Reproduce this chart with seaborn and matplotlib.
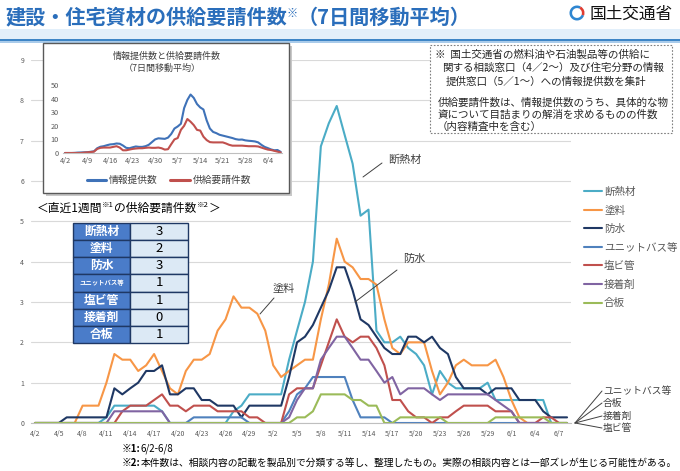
import numpy as np
import pandas as pd
import matplotlib
matplotlib.use("Agg")
import matplotlib.pyplot as plt
import seaborn as sns
from matplotlib.patches import Rectangle, Wedge

sns.set_theme(style="white")
plt.rcParams['font.family'] = ['Noto Sans CJK JP', 'DejaVu Sans']

W, H = 680, 471

# ---------------- data ----------------
series_names = ["断熱材", "塗料", "防水", "ユニットバス等", "塩ビ管", "接着剤", "合板"]
series_colors = ["#4BACC6", "#F79646", "#1F3864", "#4F81BD", "#C0504D", "#8064A2", "#9BBB59"]

days = list(range(68))  # 4/2 .. 6/8

dannetsu = [0, 0, 0, 0, 0, 0, 0, 0, 0, 0.14, 0.43, 0.43, 0.43, 0.43, 0.43, 0.43, 0.29,
            0, 0, 0, 0, 0, 0, 0, 0, 0.29, 0.43, 0.71, 0.71, 0.71, 0.71, 0.71,
            1.57, 2.29, 3.0, 4.0, 6.86, 7.43, 7.86, 7.14, 6.43, 5.14, 5.29,
            2.29, 2.0, 2.0, 2.14, 1.86, 1.71, 1.43, 0.71, 1.29, 1.0,
            0.86, 0.86, 0.86, 0.86, 1.0, 0.57, 0.57, 0.57, 0.57, 0.57, 0.57, 0.57, 0, 0, 0]
toryo = [0, 0, 0, 0, 0, 0, 0.43, 0.43, 0.43, 1.0,
         1.71, 1.57, 1.57, 1.29, 1.43, 1.71, 1.29, 0.86, 0.71,
         1.29, 1.57, 1.57, 1.71, 2.29, 2.57, 3.14, 2.86, 2.86, 2.71, 2.29, 1.43, 1.14,
         1.29, 1.43, 1.57, 1.57, 2.57, 3.43, 4.57, 4.0, 3.86, 3.57, 3.57, 3.43, 2.57, 1.86, 1.71,
         2.0, 2.0, 2.0, 1.29, 0.71, 1.0, 1.43, 1.57, 1.43, 1.43, 1.43, 1.57, 1.14, 0.57, 0.14,
         0, 0, 0, 0, 0, 0]
bousui = [0, 0, 0, 0, 0.14, 0.14, 0.14, 0.14, 0.14, 0.14,
          0.86, 0.71, 0.86, 1.0, 1.29, 1.29, 1.43, 0.71, 0.71, 0.86, 0.86, 0.57, 0.57, 0.43, 0.43, 0.43, 0.14,
          0.43, 0.43, 0.43, 0.43, 0.43,
          1.14, 2.0, 2.14, 2.43, 2.86, 3.29, 3.86, 3.86, 3.29, 2.57, 2.43, 2.14, 1.86, 1.71, 1.71,
          2.14, 2.14, 2.0, 2.14, 1.86, 1.71, 1.14, 0.86, 0.86, 0.86, 0.71, 0.86, 0.86, 0.86,
          0.57, 0.57, 0.57, 0.29, 0.14, 0.14, 0.14]
unitbath = [0, 0, 0, 0, 0, 0, 0, 0, 0, 0, 0, 0, 0, 0, 0, 0, 0, 0, 0, 0,
            0.14, 0.14, 0.14, 0.14, 0.14, 0.14, 0.14, 0, 0, 0, 0, 0,
            0.29, 0.71, 0.86, 1.14, 1.14, 1.14, 1.14, 1.14, 0.57, 0.14, 0.14, 0.14, 0.14,
            0, 0, 0, 0, 0, 0, 0, 0, 0, 0, 0, 0, 0, 0, 0, 0, 0, 0, 0, 0, 0, 0, 0]
enbikan = [0, 0, 0, 0, 0, 0, 0, 0, 0, 0, 0, 0.29, 0.43, 0.43, 0.43, 0.57, 0.71, 0.43, 0.43, 0.29,
           0.43, 0.43, 0.43, 0.29, 0.29, 0.29, 0.29, 0.14, 0.14, 0, 0, 0,
           0.71, 0.86, 0.86, 0.86, 1.43, 2.0, 2.57, 2.14, 2.0, 2.14, 2.14, 1.86, 1.43, 0.57, 0.57, 0.29, 0.14, 0.14,
           0, 0.14, 0.14, 0.29, 0.43, 0.43, 0.43, 0.43, 0.29, 0.29, 0.29, 0, 0, 0, 0.14, 0.14, 0, 0]
setchaku = [0, 0, 0, 0, 0, 0, 0, 0, 0, 0, 0.29, 0.29, 0.29, 0.29, 0.29, 0.29, 0.29,
            0, 0, 0, 0, 0, 0, 0, 0, 0, 0, 0, 0, 0, 0, 0,
            0.14, 0.57, 0.86, 0.86, 1.57, 1.86, 2.14, 2.14, 1.86, 1.57, 1.57, 1.29, 1.0, 1.14, 0.71,
            0.86, 0.86, 0.86, 0.71, 0.57, 0.71, 0.71, 0.71, 0.71, 0.71, 0.71, 0.57, 0.43, 0.29,
            0, 0, 0, 0, 0, 0, 0]
gouban = [0, 0, 0, 0, 0, 0, 0, 0, 0, 0, 0, 0, 0, 0, 0, 0, 0, 0, 0, 0, 0, 0, 0, 0, 0, 0, 0, 0, 0, 0, 0, 0, 0,
          0.14, 0.14, 0.29, 0.71, 0.71, 0.71, 0.71, 0.57, 0.57, 0.43, 0.43, 0, 0,
          0.14, 0.14, 0.14, 0.14, 0.14, 0.14, 0, 0, 0, 0, 0, 0,
          0.14, 0.14, 0.14, 0.14, 0.14, 0.14, 0.14, 0, 0, 0]

xtick_pos = list(range(0, 67, 3))
xtick_labels = ["4/2", "4/5", "4/8", "4/11", "4/14", "4/17", "4/20", "4/23", "4/26", "4/29",
                "5/2", "5/5", "5/8", "5/11", "5/14", "5/17", "5/20", "5/23", "5/26", "5/29",
                "6/1", "6/4", "6/7"]

# inset data
inset_names = ["情報提供数", "供給要請件数"]
inset_colors = ["#3F72B8", "#C0504D"]
info_count = [0, 0, 0, 0.1, 0.3, 0.4, 0.5, 0.6, 0.9, 1.2,
              3.5, 4.6, 5.0, 5.7, 6.3, 6.5, 7.0, 6.8, 5.5, 3.8,
              3.5, 4.2, 4.8, 4.5, 4.5, 5.0, 6.0, 8.0, 10.0, 10.8,
              10.6, 10.4, 11.3, 14.0, 18.0, 19.5, 21.5, 33.0, 39.0, 43.0,
              40.5, 36.0, 33.5, 32.0, 24.0, 18.0, 15.5, 14.6, 13.4, 12.8,
              12.2, 11.6, 11.0, 10.2, 9.8, 9.9, 9.3, 9.0, 8.8, 8.5,
              7.8, 6.0, 4.5, 3.6, 2.6, 2.0, 2.2, 0.8]
request_count = [0, 0, 0, 0, 0, 0, 0.3, 0.5, 0.7, 1.0,
                 3.0, 3.8, 4.0, 4.0, 4.0, 4.5, 5.0, 4.0, 2.0, 2.0,
                 2.5, 3.0, 3.3, 3.5, 3.5, 3.8, 4.0, 3.8, 3.8, 4.0,
                 3.5, 2.5, 2.8, 6.5, 10.0, 11.0, 17.0, 20.0, 25.0, 23.0,
                 20.5, 17.0, 16.5, 12.0, 9.5, 8.0, 7.8, 7.8, 7.8, 7.8,
                 7.0, 6.0, 5.4, 5.4, 5.4, 5.4, 5.2, 5.0, 5.0, 5.0,
                 4.8, 4.0, 3.2, 2.5, 2.2, 1.6, 1.0, 0.4]
inset_xtick_pos = list(range(0, 64, 7))
inset_xtick_labels = ["4/2", "4/9", "4/16", "4/23", "4/30", "5/7", "5/14", "5/21", "5/28", "6/4"]

# table data
table_items = ["断熱材", "塗料", "防水", "ユニットバス等", "塩ビ管", "接着剤", "合板"]
table_values = [3, 2, 3, 1, 1, 0, 1]

series_values = [dannetsu, toryo, bousui, unitbath, enbikan, setchaku, gouban]

df = pd.DataFrame({
    "day": np.tile(days, len(series_names)),
    "value": np.concatenate([np.array(v, dtype=float) for v in series_values]),
    "series": np.repeat(series_names, len(days)),
})
df_in = pd.DataFrame({
    "day": np.tile(days, 2),
    "value": np.concatenate([np.array(info_count), np.array(request_count)]),
    "series": np.repeat(inset_names, len(days)),
})

# ---------------- figure ----------------
fig = plt.figure(figsize=(W / 100, H / 100), dpi=100)
fig.patch.set_facecolor("white")

def fx(x):
    return x / W

def fy(y):
    return 1 - y / H

# main axes
ax = fig.add_axes([fx(31), fy(423), 540 / W, 363 / H], zorder=1)
sns.lineplot(data=df, x="day", y="value", hue="series", hue_order=series_names,
             palette=dict(zip(series_names, series_colors)), estimator=None,
             linewidth=1.5, ax=ax, sort=False)
ax.set_xlim(-0.5, 67.5)
ax.set_ylim(0, 9)
ax.set_yticks(range(0, 10))
ax.set_xticks(xtick_pos)
ax.set_xticklabels(xtick_labels)
ax.set_xlabel("")
ax.set_ylabel("")
ax.yaxis.grid(True, color="#D9D9D9", lw=0.8)
ax.xaxis.grid(False)
for s in ["top", "right", "left"]:
    ax.spines[s].set_visible(False)
ax.spines["bottom"].set_color("#BFBFBF")
ax.spines["bottom"].set_linewidth(0.8)
ax.tick_params(axis="both", length=0, labelsize=5, labelcolor="#595959", pad=5)
ax.set_facecolor("white")

handles, labels = ax.get_legend_handles_labels()
if ax.get_legend() is not None:
    ax.get_legend().remove()
leg = ax.legend(handles, labels, loc="upper left", bbox_to_anchor=(fx(584), fy(187)),
                bbox_transform=fig.transFigure, frameon=False, fontsize=7.6,
                handlelength=1.7, handletextpad=0.2, labelspacing=0.8,
                borderpad=0, borderaxespad=0)
for t in leg.get_texts():
    t.set_color("#595959")

# overlay axes in pixel coordinates
ov = fig.add_axes([0, 0, 1, 1], zorder=5)
ov.set_xlim(0, W)
ov.set_ylim(H, 0)
ov.axis("off")
ov.patch.set_alpha(0)

renderer = fig.canvas.get_renderer()

def runs(x, y, parts, color="black"):
    cur = x
    for s, kw in parts:
        kw = dict(kw)
        dy = kw.pop("dy", 0)
        t = ov.text(cur, y + dy, s, va="center", ha="left", color=kw.pop("color", color), **kw)
        bb = t.get_window_extent(renderer)
        cur += bb.width
    return cur

# title band
ov.add_patch(Rectangle((0, 29), W, 10, fc="#E2EFFA", ec="none"))
ov.add_patch(Rectangle((0, 38.5), W, 2.5, fc="#3D85C6", ec="none"))
ov.add_patch(Rectangle((0, 41), W, 1.5, fc="#A9CBEA", ec="none"))
tcol = "#2A6EBB"
runs(5, 17, [("建設・住宅資材の供給要請件数", dict(fontsize=14.5, weight="bold")),
             ("※", dict(fontsize=8, weight="bold", dy=-4)),
             ("（7日間移動平均）", dict(fontsize=14.5, weight="bold"))], color=tcol)

# logo
ov.add_patch(Wedge((577, 13), 7.5, 20, 300, width=2.6, fc="#2E86D1", ec="none"))
ov.add_patch(Wedge((577, 13), 7.5, 300, 380, width=2.6, fc="#E03C31", ec="none"))
ov.text(590, 14, "国土交通省", fontsize=12, color="#111111", va="center", ha="left")

# inset box
ov.add_patch(Rectangle((46, 46), 246, 150, fc="#C8C8C8", ec="none"))
ov.add_patch(Rectangle((43, 43), 246, 150, fc="white", ec="#595959", lw=1.0))
ov.text(167, 56, "情報提供数と供給要請件数", fontsize=6.5, color="#404040", ha="center", va="center")
ov.text(162, 68, "（7日間移動平均）", fontsize=6.5, color="#404040", ha="center", va="center")

# note box
ov.add_patch(Rectangle((430, 45), 242, 88, fc="white", ec="#7F7F7F", lw=0.8, ls=(0, (1.5, 1.5))))
note_lines = [
    (435, 55, "※  国土交通省の燃料油や石油製品等の供給に"),
    (442, 68, "関する相談窓口（4／2～）及び住宅分野の情報"),
    (446, 82, "提供窓口（5／1～）への情報提供数を集計"),
    (438, 103, "供給要請件数は、情報提供数のうち、具体的な物"),
    (438, 115, "資について目詰まりの解消を求めるものの件数"),
    (437, 127, "（内容精査中を含む）"),
]
for x, y, s in note_lines:
    ov.text(x, y, s, fontsize=7.6, color="#262626", va="center", ha="left")

# table
runs(37, 208, [("＜直近1週間", dict(fontsize=8.5)),
               ("※1", dict(fontsize=5.5, dy=-3)),
               ("の供給要請件数", dict(fontsize=8.5)),
               ("※2", dict(fontsize=5.5, dy=-3)),
               ("＞", dict(fontsize=8.5))])
row_h = 120 / 7
for i, (name, val) in enumerate(zip(table_items, table_values)):
    y0 = 223 + i * row_h
    ov.add_patch(Rectangle((73, y0), 57, row_h, fc="#4A7CC9", ec="#1F3864", lw=1.0))
    ov.add_patch(Rectangle((130, y0), 58, row_h, fc="#DCE9F5", ec="#1F3864", lw=1.0))
    fs = 4.6 if len(name) > 4 else 8.5
    ov.text(101.5, y0 + row_h / 2, name, fontsize=fs, weight="bold", color="white",
            ha="center", va="center")
    ov.text(159, y0 + row_h / 2, str(val), fontsize=9.5, color="black", ha="center", va="center")

# annotations
acol = "#404040"
ov.plot([363, 382], [177, 163], color=acol, lw=0.7)
ov.text(388, 160, "断熱材", fontsize=8, color=acol, va="center", ha="left")
ov.plot([355, 397], [302, 270], color=acol, lw=0.7)
ov.text(403, 259, "防水", fontsize=8, color=acol, va="center", ha="left")
ov.plot([260, 274], [314, 298], color=acol, lw=0.7)
ov.text(273, 289, "塗料", fontsize=8, color=acol, va="center", ha="left")
for yy, s in zip([391, 403, 416, 428], ["ユニットバス等", "合板", "接着剤", "塩ビ管"]):
    ov.plot([575, 602], [423, yy], color=acol, lw=0.7)
    ov.text(603, yy, s, fontsize=7, color=acol, va="center", ha="left")

# footnotes
runs(122, 449, [("※1:", dict(fontsize=7, weight="bold")), ("6/2-6/8", dict(fontsize=7))])
runs(122, 463, [("※2:", dict(fontsize=7, weight="bold")),
                ("本件数は、相談内容の記載を製品別で分類する等し、整理したもの。実際の相談内容とは一部ズレが生じる可能性がある。",
                 dict(fontsize=7))])

# inset axes
inax = fig.add_axes([fx(63), fy(153), 219 / W, 68 / H], zorder=6)
inax.patch.set_alpha(0)
sns.lineplot(data=df_in, x="day", y="value", hue="series", hue_order=inset_names,
             palette=dict(zip(inset_names, inset_colors)), estimator=None,
             linewidth=1.5, ax=inax, sort=False)
inax.set_xlim(-0.62, 67.4)
inax.set_ylim(0, 50)
inax.set_yticks(range(0, 51, 10))
inax.set_xticks(inset_xtick_pos)
inax.set_xticklabels(inset_xtick_labels)
inax.set_xlabel("")
inax.set_ylabel("")
inax.grid(False)
for s in ["top", "right", "left"]:
    inax.spines[s].set_visible(False)
inax.spines["bottom"].set_color("#BFBFBF")
inax.spines["bottom"].set_linewidth(0.8)
inax.tick_params(axis="both", length=0, labelsize=5.3, labelcolor="#595959", pad=3)
ih, il = inax.get_legend_handles_labels()
if inax.get_legend() is not None:
    inax.get_legend().remove()
ileg = inax.legend(ih, il, ncol=2, loc="center", bbox_to_anchor=(fx(169), fy(180)),
                   bbox_transform=fig.transFigure, frameon=False, fontsize=7,
                   handlelength=2.0, columnspacing=1.3, handletextpad=0.3,
                   borderpad=0, borderaxespad=0)
for ln in ileg.get_lines():
    ln.set_linewidth(2.2)
for t in ileg.get_texts():
    t.set_color("#404040")

fig.savefig("out.png", dpi=100, facecolor="white")
